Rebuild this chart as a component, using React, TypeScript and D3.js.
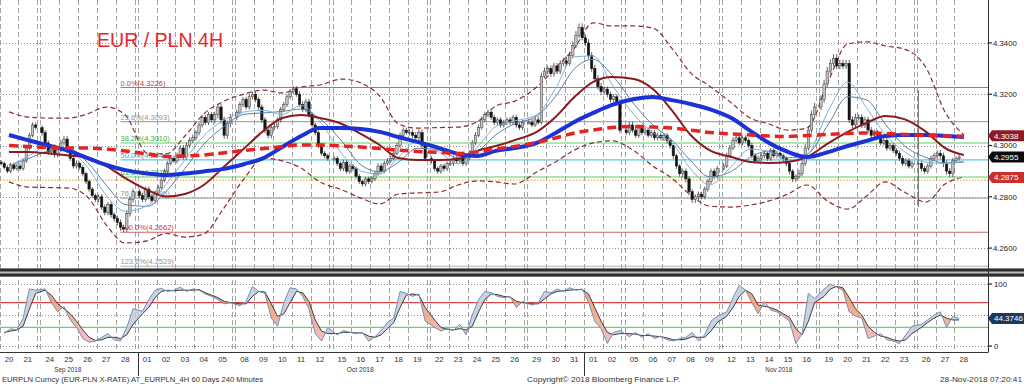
import React from 'react';
import * as d3 from 'd3';

// ---- data (EURPLN 4H, 20 Sep - 28 Nov 2018) ----
const days = [
  '2018-09-20', '2018-09-21', '2018-09-24', '2018-09-25', '2018-09-26', '2018-09-27', '2018-09-28',
  '2018-10-01', '2018-10-02', '2018-10-03', '2018-10-04', '2018-10-05', '2018-10-08', '2018-10-09',
  '2018-10-10', '2018-10-11', '2018-10-12', '2018-10-15', '2018-10-16', '2018-10-17', '2018-10-18',
  '2018-10-19', '2018-10-22', '2018-10-23', '2018-10-24', '2018-10-25', '2018-10-26', '2018-10-29',
  '2018-10-30', '2018-10-31', '2018-11-01', '2018-11-02', '2018-11-05', '2018-11-06', '2018-11-07',
  '2018-11-08', '2018-11-09', '2018-11-12', '2018-11-13', '2018-11-14', '2018-11-15', '2018-11-16',
  '2018-11-19', '2018-11-20', '2018-11-21', '2018-11-22', '2018-11-23', '2018-11-26', '2018-11-27',
  '2018-11-28',
];

// 4H closes, one row per trading day
const closesByDay = [
  [4.2930, 4.2915, 4.2900, 4.2925, 4.2910, 4.2920],
  [4.2910, 4.2940, 4.2990, 4.3040, 4.3080, 4.3070],
  [4.3050, 4.3010, 4.2975, 4.2995, 4.2965, 4.2985],
  [4.3010, 4.3025, 4.2980, 4.2950, 4.2920, 4.2930],
  [4.2915, 4.2890, 4.2860, 4.2830, 4.2805, 4.2790],
  [4.2800, 4.2760, 4.2740, 4.2770, 4.2730, 4.2715],
  [4.2700, 4.2680, 4.2675, 4.2735, 4.2790, 4.2820],
  [4.2805, 4.2790, 4.2830, 4.2800, 4.2785, 4.2815],
  [4.2835, 4.2865, 4.2900, 4.2930, 4.2950, 4.2940],
  [4.2960, 4.2990, 4.2955, 4.3000, 4.3020, 4.3030],
  [4.3050, 4.3080, 4.3110, 4.3090, 4.3120, 4.3100],
  [4.3120, 4.3150, 4.3100, 4.3040, 4.3085, 4.3110],
  [4.3130, 4.3160, 4.3180, 4.3150, 4.3190, 4.3200],
  [4.3180, 4.3150, 4.3100, 4.3060, 4.3040, 4.3070],
  [4.3075, 4.3100, 4.3140, 4.3160, 4.3190, 4.3210],
  [4.3220, 4.3200, 4.3160, 4.3140, 4.3170, 4.3120],
  [4.3080, 4.3050, 4.3000, 4.2970, 4.2960, 4.2950],
  [4.2950, 4.2930, 4.2910, 4.2935, 4.2900, 4.2920],
  [4.2910, 4.2880, 4.2860, 4.2850, 4.2870, 4.2860],
  [4.2870, 4.2890, 4.2920, 4.2900, 4.2930, 4.2940],
  [4.2950, 4.2970, 4.3000, 4.3040, 4.3060, 4.3050],
  [4.3050, 4.3040, 4.3030, 4.3050, 4.3000, 4.2950],
  [4.2940, 4.2910, 4.2900, 4.2920, 4.2910, 4.2930],
  [4.2930, 4.2950, 4.2940, 4.2960, 4.2930, 4.2950],
  [4.2970, 4.3010, 4.3040, 4.3070, 4.3100, 4.3120],
  [4.3130, 4.3110, 4.3090, 4.3100, 4.3080, 4.3090],
  [4.3100, 4.3090, 4.3110, 4.3080, 4.3070, 4.3090],
  [4.3090, 4.3080, 4.3100, 4.3090, 4.3270, 4.3290],
  [4.3300, 4.3280, 4.3310, 4.3290, 4.3320, 4.3330],
  [4.3320, 4.3350, 4.3390, 4.3430, 4.3460, 4.3420],
  [4.3400, 4.3350, 4.3300, 4.3260, 4.3230, 4.3210],
  [4.3220, 4.3200, 4.3180, 4.3190, 4.3170, 4.3060],
  [4.3050, 4.3080, 4.3060, 4.3040, 4.3070, 4.3050],
  [4.3060, 4.3040, 4.3050, 4.3030, 4.3040, 4.3030],
  [4.3040, 4.3020, 4.3000, 4.2960, 4.2920, 4.2890],
  [4.2900, 4.2870, 4.2820, 4.2790, 4.2800, 4.2810],
  [4.2800, 4.2830, 4.2860, 4.2900, 4.2880, 4.2910],
  [4.2920, 4.2960, 4.2990, 4.3020, 4.3030, 4.3010],
  [4.3030, 4.3020, 4.3000, 4.2960, 4.2940, 4.2950],
  [4.2960, 4.2970, 4.2950, 4.2980, 4.2960, 4.2970],
  [4.2960, 4.2950, 4.2930, 4.2900, 4.2870, 4.2880],
  [4.2890, 4.2930, 4.2990, 4.3060, 4.3120, 4.3150],
  [4.3180, 4.3240, 4.3290, 4.3320, 4.3340, 4.3310],
  [4.3320, 4.3310, 4.3320, 4.3100, 4.3080, 4.3110],
  [4.3110, 4.3080, 4.3100, 4.3060, 4.3040, 4.3050],
  [4.3040, 4.3010, 4.3020, 4.2990, 4.3000, 4.2980],
  [4.2970, 4.2950, 4.2930, 4.2940, 4.2920, 4.2930],
  [4.2930, 4.2910, 4.2900, 4.2920, 4.2950, 4.2960],
  [4.2970, 4.2960, 4.2930, 4.2900, 4.2890, 4.2940],
  [4.2950, 4.2955],
];
const firstOpen = 4.2935;

// typical wick length per day, in pips
const wickHiPips = [8, 10, 10, 12, 8, 10, 12, 10, 10, 12, 10, 12, 10, 10, 10, 12, 8, 8, 8, 10, 10, 12, 8, 10, 12,
  10, 10, 14, 12, 16, 14, 10, 12, 10, 8, 10, 10, 12, 10, 10, 8, 16, 16, 14, 12, 10, 10, 10, 12, 8];
const wickLoPips = [8, 8, 12, 10, 10, 12, 12, 10, 8, 10, 10, 14, 10, 12, 10, 10, 10, 10, 10, 8, 8, 12, 10, 10, 8,
  10, 10, 8, 12, 10, 12, 12, 10, 10, 12, 14, 10, 8, 10, 10, 12, 10, 12, 12, 12, 10, 10, 10, 14, 8];
const spikes = [{ day: '2018-11-26', bar: 0, high: 4.3215, low: 4.2760 }];

// indicator lines, one value per trading day
const fastMA = [4.2920, 4.2957, 4.3001, 4.2984, 4.2915, 4.2805, 4.2744, 4.2765, 4.2849, 4.2944, 4.3038, 4.3096,
  4.3131, 4.3137, 4.3121, 4.3156, 4.3093, 4.2967, 4.2901, 4.2888, 4.2955, 4.3016, 4.2974, 4.2929, 4.2992, 4.3074,
  4.3096, 4.3119, 4.3223, 4.3346, 4.3349, 4.3237, 4.3120, 4.3051, 4.3011, 4.2909, 4.2846, 4.2919, 4.2986, 4.2975,
  4.2942, 4.2964, 4.3139, 4.3247, 4.3147, 4.3043, 4.2977, 4.2935, 4.2930, 4.2940];
const slowMA = [4.2920, 4.2948, 4.2980, 4.2989, 4.2934, 4.2845, 4.2770, 4.2763, 4.2821, 4.2910, 4.3005, 4.3070,
  4.3122, 4.3127, 4.3133, 4.3142, 4.3104, 4.3016, 4.2925, 4.2898, 4.2935, 4.2989, 4.2982, 4.2952, 4.2975, 4.3042,
  4.3085, 4.3115, 4.3191, 4.3299, 4.3336, 4.3275, 4.3161, 4.3080, 4.3022, 4.2941, 4.2878, 4.2899, 4.2955, 4.2978,
  4.2952, 4.2965, 4.3086, 4.3190, 4.3178, 4.3083, 4.3000, 4.2953, 4.2932, 4.2935];
const ma50 = [4.2975, 4.2975, 4.2969, 4.2961, 4.2953, 4.2920, 4.2873, 4.2827, 4.2801, 4.2811, 4.2846, 4.2912,
  4.2990, 4.3057, 4.3107, 4.3119, 4.3107, 4.3084, 4.3045, 4.3002, 4.2951, 4.2943, 4.2943, 4.2947, 4.2979, 4.2998,
  4.3021, 4.3053, 4.3111, 4.3189, 4.3248, 4.3267, 4.3259, 4.3220, 4.3138, 4.3041, 4.2982, 4.2955, 4.2936, 4.2932,
  4.2936, 4.2955, 4.3010, 4.3053, 4.3088, 4.3115, 4.3103, 4.3053, 4.2990, 4.2963];
const ma100 = [4.3041, 4.3021, 4.2998, 4.2979, 4.2951, 4.2924, 4.2904, 4.2891, 4.2885, 4.2891, 4.2899, 4.2908,
  4.2928, 4.2951, 4.2994, 4.3037, 4.3068, 4.3068, 4.3064, 4.3053, 4.3033, 4.3014, 4.2990, 4.2967, 4.2959, 4.2979,
  4.2990, 4.3010, 4.3049, 4.3092, 4.3127, 4.3158, 4.3181, 4.3189, 4.3177, 4.3162, 4.3142, 4.3107, 4.3057, 4.3010,
  4.2975, 4.2955, 4.2975, 4.2998, 4.3018, 4.3037, 4.3041, 4.3041, 4.3037, 4.3033];
const ma200 = [4.3000, 4.2996, 4.2992, 4.2990, 4.2990, 4.2986, 4.2979, 4.2967, 4.2957, 4.2959, 4.2963, 4.2971,
  4.2981, 4.2988, 4.2996, 4.3002, 4.3002, 4.2998, 4.2994, 4.2988, 4.2982, 4.2977, 4.2973, 4.2969, 4.2975, 4.2986,
  4.2996, 4.3012, 4.3029, 4.3049, 4.3060, 4.3070, 4.3074, 4.3072, 4.3068, 4.3060, 4.3051, 4.3045, 4.3041, 4.3037,
  4.3035, 4.3039, 4.3043, 4.3047, 4.3049, 4.3047, 4.3043, 4.3039, 4.3037, 4.3035];
const bbUpper = [4.3131, 4.3111, 4.3107, 4.3107, 4.3123, 4.3150, 4.3119, 4.2971, 4.2967, 4.3037, 4.3123, 4.3170,
  4.3201, 4.3216, 4.3205, 4.3228, 4.3236, 4.3259, 4.3244, 4.3193, 4.3084, 4.3068, 4.3070, 4.3072, 4.3092, 4.3154,
  4.3173, 4.3228, 4.3302, 4.3380, 4.3478, 4.3466, 4.3466, 4.3458, 4.3380, 4.3283, 4.3232, 4.3166, 4.3107, 4.3084,
  4.3060, 4.3068, 4.3255, 4.3396, 4.3404, 4.3388, 4.3376, 4.3302, 4.3131, 4.3041];
const bbLower = [4.2858, 4.2838, 4.2836, 4.2834, 4.2799, 4.2690, 4.2620, 4.2628, 4.2657, 4.2643, 4.2655, 4.2749,
  4.2873, 4.2951, 4.2940, 4.2912, 4.2858, 4.2827, 4.2795, 4.2772, 4.2811, 4.2815, 4.2819, 4.2846, 4.2862, 4.2858,
  4.2850, 4.2897, 4.2936, 4.2982, 4.3010, 4.3018, 4.2979, 4.2920, 4.2873, 4.2807, 4.2764, 4.2760, 4.2768, 4.2784,
  4.2811, 4.2846, 4.2780, 4.2752, 4.2803, 4.2858, 4.2819, 4.2780, 4.2850, 4.2877];

// stochastic, every second 4H bar (3 per day)
const stochK = [20, 28, 26, 45, 92, 90, 92, 70, 55, 64, 42, 30, 12, 6, 8, 14, 20, 10, 8, 30, 60,
  56, 75, 90, 93, 88, 90, 95, 88, 92, 90, 84, 80, 75, 68, 70, 65, 72, 96, 88, 85, 45, 32, 70, 94,
  92, 80, 60, 20, 8, 30, 18, 25, 22, 20, 22, 8, 15, 25, 38, 45, 88, 85, 80, 84, 40, 30, 24, 28,
  25, 35, 18, 50, 75, 88, 86, 80, 78, 80, 62, 72, 66, 70, 88, 86, 92, 88, 94, 90, 92, 70, 40, 28,
  4, 22, 25, 15, 22, 14, 20, 12, 16, 10, 8, 12, 14, 22, 8, 18, 40, 48, 55, 78, 98, 90, 70, 52,
  72, 58, 55, 48, 40, 4, 20, 85, 76, 92, 100, 95, 90, 55, 48, 45, 12, 16, 20, 10, 8, 4, 18, 32,
  35, 42, 50, 55, 30, 48, 44.3746];
const stochD = [22, 24, 26, 32, 60, 85, 90, 82, 68, 60, 52, 40, 26, 14, 9, 10, 14, 14, 12, 18, 35,
  52, 62, 78, 88, 90, 89, 90, 90, 90, 91, 86, 82, 78, 72, 70, 68, 68, 80, 88, 87, 68, 48, 52, 70,
  88, 86, 72, 42, 24, 20, 20, 22, 22, 21, 21, 16, 14, 18, 28, 38, 62, 82, 84, 82, 62, 42, 30, 27,
  26, 28, 26, 32, 55, 75, 84, 83, 80, 79, 72, 70, 68, 68, 76, 84, 88, 89, 90, 91, 91, 84, 62, 40,
  22, 18, 20, 20, 19, 17, 17, 16, 15, 13, 10, 10, 11, 15, 14, 14, 24, 38, 48, 62, 80, 90, 84, 66,
  64, 62, 58, 52, 46, 28, 18, 40, 70, 80, 92, 96, 94, 78, 60, 50, 32, 22, 16, 14, 10, 8, 10, 20,
  30, 38, 45, 50, 45, 42, 42];

const priceTicks = [4.26, 4.28, 4.30, 4.32, 4.34];
const stochGrid = [0, 50, 100];
const stochTickLabels = [0, 100];
const stochOverbought = 70;
const stochOversold = 30;

const fibLevels = [
  { label: '0.0%', value: 4.3226 },
  { label: '23.6%', value: 4.3093 },
  { label: '38.2%', value: 4.3010 },
  { label: '50.0%', value: 4.2944 },
  { label: '61.8%', value: 4.2877 },
  { label: '76.4%', value: 4.2795 },
  { label: '100.0%', value: 4.2662 },
  { label: '123.6%', value: 4.2529 },
];
const fibAnchor = { day: '2018-09-28', bar: 1 };
const refLevel = 4.2865;

const priceTags = [
  { value: 4.3038, kind: 'ma' },
  { value: 4.2955, kind: 'last' },
  { value: 4.2875, kind: 'band' },
];
const stochLast = 44.3746;

// ---- styles / layout ----
const fibLineColor = ['#c86868', '#a8a8a8', '#62cf62', '#5cc6e6', '#62cf62', '#a8a8a8', '#c86868', '#b0b0b0'];
const fibTextColor = ['#c84040', '#959595', '#3fae3f', '#3aa6cf', '#3fae3f', '#959595', '#c84040', '#959595'];
const tagColor: Record<string, string> = { ma: '#8e1b24', last: '#0b0b0b', band: '#c8302c' };

const W = 1024;
const H = 385;
const PER_DAY = 6;
const SLOT_W = 3.141;
const X0 = -0.42;
const PLOT_R = 988;
const MAIN_B = 268;
const ST_T = 277;
const ST_B = 352;
const FONT = "'Liberation Sans', Arial, sans-serif";

let wk = 0;
const dayStart = days.map((d, i) => {
  if (i > 0 && new Date(d + 'T00:00:00Z').getUTCDay() === 1) wk += 1;
  return i * PER_DAY + wk;
});
const totalSlots = days.length * PER_DAY + wk;

const x = d3.scaleLinear().domain([0, totalSlots]).range([X0, X0 + totalSlots * SLOT_W]);
const y = d3.scaleLinear().domain([4.26, 4.34]).range([248.1, 42.9]);
const ys = d3.scaleLinear().domain([0, 100]).range([346, 284]);

const barX = (i: number) => x(dayStart[Math.floor(i / PER_DAY)] + (i % PER_DAY) + 0.5);
const dayX = (d: number) => x(dayStart[d] + PER_DAY / 2);

const closes = closesByDay.flat();
const candles = closes.map((c, i) => {
  const o = i === 0 ? firstOpen : closes[i - 1];
  const day = Math.floor(i / PER_DAY);
  let hi = Math.max(o, c) + wickHiPips[day] * 1e-4;
  let lo = Math.min(o, c) - wickLoPips[day] * 1e-4;
  spikes.forEach(s => {
    if (days.indexOf(s.day) * PER_DAY + s.bar === i) { hi = s.high; lo = s.low; }
  });
  return { i, o, c, hi, lo };
});

const dayLine = (vals: number[]) =>
  d3.line<number>().x((_, d) => dayX(d)).y(v => y(v)).curve(d3.curveMonotoneX)(vals) || '';

const stochPts = stochK.map((k, p) => ({ x: barX(2 * p + 1), k, d: stochD[p] }));
const kLine = d3.line<typeof stochPts[0]>().x(p => p.x).y(p => ys(p.k))(stochPts) || '';
const dLine = d3.line<typeof stochPts[0]>().x(p => p.x).y(p => ys(p.d))(stochPts) || '';
const kdArea = d3.area<typeof stochPts[0]>().x(p => p.x).y0(p => ys(p.d)).y1(p => ys(p.k))(stochPts) || '';
const aboveD = d3.area<typeof stochPts[0]>().x(p => p.x).y0(ST_T).y1(p => ys(p.d))(stochPts) || '';
const belowD = d3.area<typeof stochPts[0]>().x(p => p.x).y0(p => ys(p.d)).y1(ST_B)(stochPts) || '';

// vertical day separators (double at weekends)
const vSlots: number[] = [];
days.forEach((_, d) => {
  vSlots.push(dayStart[d]);
  if (d + 1 < days.length && dayStart[d + 1] !== dayStart[d] + PER_DAY) vSlots.push(dayStart[d] + PER_DAY);
});
const vLines = vSlots.map(s => Math.round(x(s)) + 0.5);

const fmtMonth = d3.timeFormat('%b %Y');
const monthGroups = d3.groups(days.map((d, i) => ({ d, i })), e => e.d.slice(0, 7));
const monthStarts = monthGroups.slice(1).map(g => Math.round(x(dayStart[g[1][0].i])) + 0.5);

const fibX = barX(days.indexOf(fibAnchor.day) * PER_DAY + fibAnchor.bar);

const Tag = ({ cy, text, fill }: { cy: number; text: string; fill: string }) => (
  <g>
    <path d={`M${PLOT_R},${cy} L${PLOT_R + 4},${cy - 5.5} H${W} V${cy + 5.5} H${PLOT_R + 4} Z`} fill={fill} />
    <text x={PLOT_R + 6} y={cy} dy="0.36em" fill="#fff" fontSize={8}>{text}</text>
  </g>
);

export default function App() {
  return (
    <div style={{ position: 'absolute', left: 0, top: 0, width: W, height: H, background: '#fff' }}>
      <svg width={W} height={H} style={{ display: 'block' }} fontFamily={FONT}>
        <defs>
          <clipPath id="mainClip"><rect x={0} y={0} width={PLOT_R} height={MAIN_B} /></clipPath>
          <clipPath id="stClip"><rect x={0} y={ST_T} width={PLOT_R} height={ST_B - ST_T} /></clipPath>
          <clipPath id="aboveD"><path d={aboveD} /></clipPath>
          <clipPath id="belowD"><path d={belowD} /></clipPath>
          <linearGradient id="bearFill" gradientUnits="userSpaceOnUse" x1={0} y1={ys(100)} x2={0} y2={ys(0)}>
            <stop offset="0" stopColor="#f29656" />
            <stop offset="0.55" stopColor="#f4a98a" />
            <stop offset="1" stopColor="#f5b8c6" />
          </linearGradient>
        </defs>

        {/* vertical grid */}
        {vLines.map((vx, i) => (
          <line key={'v' + i} x1={vx} x2={vx} y1={0} y2={ST_B} stroke="#a3a3a3" strokeDasharray="5,3" />
        ))}

        {/* main panel */}
        <g clipPath="url(#mainClip)">
          {priceTicks.map(t => (
            <line key={'g' + t} x1={0} x2={PLOT_R} y1={Math.round(y(t)) + 0.5} y2={Math.round(y(t)) + 0.5}
              stroke="#8c8c8c" strokeDasharray="1,2" />
          ))}
          {fibLevels.map((f, i) => (
            <line key={'f' + i} x1={fibX} x2={PLOT_R} y1={y(f.value)} y2={y(f.value)}
              stroke={fibLineColor[i]} strokeWidth={1.1} />
          ))}
          <line x1={0} x2={PLOT_R} y1={y(refLevel)} y2={y(refLevel)} stroke="#e3a020" strokeDasharray="1.5,1.5" />
          {fibLevels.map((f, i) => (
            <text key={'ft' + i} x={fibX} y={y(f.value) - 2} fontSize={7.5} fill={fibTextColor[i]}>
              {`${f.label}(${f.value.toFixed(4)})`}
            </text>
          ))}

          <path d={dayLine(bbUpper)} fill="none" stroke="#8a2f2f" strokeWidth={1.2} strokeDasharray="5,3" />
          <path d={dayLine(bbLower)} fill="none" stroke="#8a2f2f" strokeWidth={1.2} strokeDasharray="5,3" />

          {candles.map(cd => {
            const bx = barX(cd.i);
            const up = cd.c >= cd.o;
            const top = y(Math.max(cd.o, cd.c));
            const h = Math.max(1, Math.abs(y(cd.o) - y(cd.c)));
            return (
              <g key={'c' + cd.i}>
                <line x1={bx} x2={bx} y1={y(cd.hi)} y2={y(cd.lo)} stroke="#3a3a3a" strokeWidth={0.8} />
                <rect x={bx - 1.2} y={top} width={2.4} height={h}
                  fill={up ? '#c4c4c4' : '#141414'} stroke={up ? '#3a3a3a' : '#141414'} strokeWidth={0.5} />
              </g>
            );
          })}

          <path d={dayLine(slowMA)} fill="none" stroke="#5c7fa6" strokeWidth={1} />
          <path d={dayLine(fastMA)} fill="none" stroke="#7fb1dc" strokeWidth={1} />
          <path d={dayLine(ma50)} fill="none" stroke="#8b1a1f" strokeWidth={2} />
          <path d={dayLine(ma100)} fill="none" stroke="#1b33d6" strokeWidth={4} />
          <path d={dayLine(ma200)} fill="none" stroke="#e8231f" strokeWidth={3.5} strokeDasharray="9,5" />
        </g>

        <text x={97} y={46.5} fontSize={21} fill="#e3262a" textLength={126} lengthAdjust="spacingAndGlyphs">
          EUR / PLN 4H
        </text>

        {/* panel separator */}
        <rect x={0} y={268.5} width={W} height={8.5} fill="#bdbdbd" />
        <rect x={0} y={268.5} width={W} height={3} fill="#2f2f2f" />
        <rect x={0} y={273.5} width={W} height={3} fill="#2f2f2f" />

        {/* stochastic panel */}
        <g clipPath="url(#stClip)">
          {stochGrid.map(t => (
            <line key={'sg' + t} x1={0} x2={PLOT_R} y1={Math.round(ys(t)) + 0.5} y2={Math.round(ys(t)) + 0.5}
              stroke="#8c8c8c" strokeDasharray="1,2" />
          ))}
          <line x1={0} x2={PLOT_R} y1={ys(stochOverbought)} y2={ys(stochOverbought)} stroke="#d24545" strokeWidth={1.1} />
          <line x1={0} x2={PLOT_R} y1={ys(stochOversold)} y2={ys(stochOversold)} stroke="#6ad46a" strokeWidth={1.1} />
          <path d={kdArea} fill="#c3cbd8" fillOpacity={0.85} clipPath="url(#aboveD)" />
          <path d={kdArea} fill="url(#bearFill)" fillOpacity={0.9} clipPath="url(#belowD)" />
          <path d={dLine} fill="none" stroke="#3a3d46" strokeWidth={1} />
          <path d={kLine} fill="none" stroke="#6f90b8" strokeWidth={1} />
        </g>

        {/* frame */}
        <line x1={PLOT_R + 0.5} x2={PLOT_R + 0.5} y1={0} y2={ST_B} stroke="#333" />
        <line x1={0} x2={PLOT_R + 0.5} y1={ST_B + 0.5} y2={ST_B + 0.5} stroke="#333" />

        {/* right axes */}
        {priceTicks.map(t => (
          <g key={'pt' + t}>
            <line x1={PLOT_R} x2={PLOT_R + 4} y1={y(t)} y2={y(t)} stroke="#222" strokeWidth={1.2} />
            <text x={PLOT_R + 5} y={y(t)} dy="0.36em" fontSize={7.8} fill="#222">{t.toFixed(4)}</text>
          </g>
        ))}
        {stochTickLabels.map(t => (
          <g key={'st' + t}>
            <line x1={PLOT_R} x2={PLOT_R + 4} y1={ys(t)} y2={ys(t)} stroke="#222" strokeWidth={1.2} />
            <text x={PLOT_R + 6} y={ys(t)} dy="0.36em" fontSize={7.8} fill="#222">{t}</text>
          </g>
        ))}
        {priceTags.map(p => (
          <Tag key={p.kind} cy={y(p.value)} text={p.value.toFixed(4)} fill={tagColor[p.kind]} />
        ))}
        <Tag cy={ys(stochLast)} text={stochLast.toFixed(4)} fill="#1d3a5d" />

        {/* date axis */}
        {days.map((d, i) => (
          <text key={'d' + i} x={dayX(i)} y={361.5} fontSize={7.8} fill="#333" textAnchor="middle">{d.slice(8)}</text>
        ))}
        {monthGroups.map(([m, arr]) => (
          <text key={m} x={d3.mean(arr, e => dayX(e.i))} y={371.5} fontSize={7.8} fill="#333" textAnchor="middle"
            textLength={27} lengthAdjust="spacingAndGlyphs">
            {fmtMonth(new Date(m + '-15T00:00:00Z'))}
          </text>
        ))}
        {monthStarts.map((mx, i) => (
          <line key={'ms' + i} x1={mx} x2={mx} y1={ST_B} y2={376} stroke="#333" />
        ))}

        {/* footer */}
        <text x={2} y={382} fontSize={7.6} fill="#333" textLength={261} lengthAdjust="spacingAndGlyphs">
          EURPLN Curncy (EUR-PLN X-RATE) AT_EURPLN_4H 60 Days 240 Minutes
        </text>
        <text x={527} y={382} fontSize={7.6} fill="#333" textLength={153} lengthAdjust="spacingAndGlyphs">
          Copyright© 2018 Bloomberg Finance L.P.
        </text>
        <text x={940} y={382} fontSize={7.6} fill="#333" textLength={82} lengthAdjust="spacingAndGlyphs">
          28-Nov-2018 07:20:41
        </text>
      </svg>
    </div>
  );
}
